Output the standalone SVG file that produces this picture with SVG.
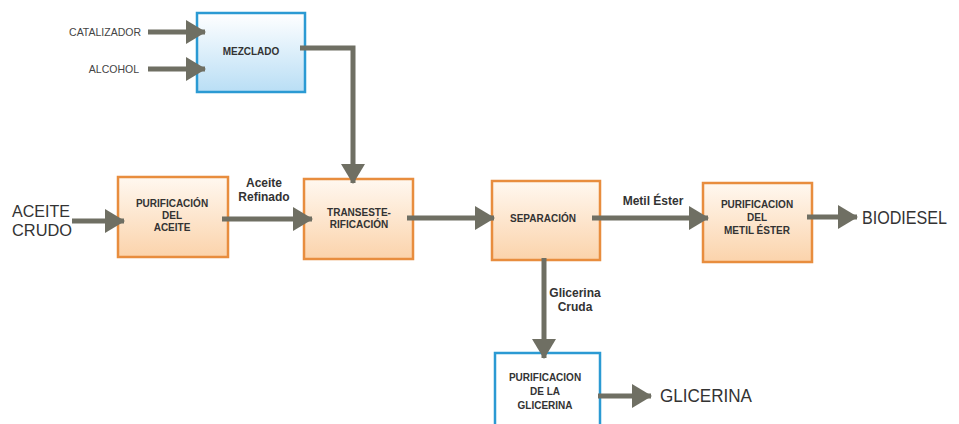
<svg xmlns="http://www.w3.org/2000/svg" width="959" height="424" viewBox="0 0 959 424">
<defs>
<linearGradient id="gBlue" x1="0" y1="0" x2="0" y2="1"><stop offset="0" stop-color="#ffffff"/><stop offset="1" stop-color="#b9def5"/></linearGradient>
<linearGradient id="gOrange" x1="0" y1="0" x2="0" y2="1"><stop offset="0" stop-color="#fff8f0"/><stop offset="1" stop-color="#fbd3ab"/></linearGradient>
<marker id="ah" markerUnits="userSpaceOnUse" markerWidth="22" markerHeight="24" refX="19" refY="12" orient="auto" viewBox="0 0 22 24"><path d="M0,0 L20,12 L0,24 Z" fill="#6f6f63"/></marker>
</defs>
<style>
.blue{fill:url(#gBlue);stroke:#2b9ad3;stroke-width:2.5}
.white{fill:#ffffff;stroke:#2b9ad3;stroke-width:2.5}
.orange{fill:url(#gOrange);stroke:#e88d3e;stroke-width:2.5}
.lbl{font-family:"Liberation Sans",Arial,sans-serif;font-weight:bold;font-size:10px;fill:#333;text-anchor:middle}
.edge{font-family:"Liberation Sans",Arial,sans-serif;font-weight:bold;font-size:12px;fill:#333;text-anchor:middle}
.small{font-family:"Liberation Sans",Arial,sans-serif;font-size:10.5px;fill:#444;text-anchor:end}
.big{font-family:"Liberation Sans",Arial,sans-serif;font-size:18px;fill:#333}
.c{fill:none;stroke:#6f6f63;stroke-width:5;marker-end:url(#ah)}
</style>
<rect width="959" height="424" fill="#ffffff"/>
<text class="small" x="141" y="36">CATALIZADOR</text>
<text class="small" x="139" y="73">ALCOHOL</text>
<text class="big" x="12" y="217" style="font-size:17px" textLength="58" lengthAdjust="spacingAndGlyphs">ACEITE</text>
<text class="big" x="12" y="236" style="font-size:17px" textLength="60" lengthAdjust="spacingAndGlyphs">CRUDO</text>
<text class="big" x="862" y="224" textLength="85" lengthAdjust="spacingAndGlyphs">BIODIESEL</text>
<text class="big" x="660" y="402" textLength="92" lengthAdjust="spacingAndGlyphs">GLICERINA</text>
<g id="mezclado"><rect class="blue" x="197" y="13" width="108" height="79"/><text class="lbl" x="251" y="55">MEZCLADO</text></g>
<g id="purif-aceite"><rect class="orange" x="118" y="177" width="110" height="80"/><text class="lbl" x="172" y="207">PURIFICACIÓN</text><text class="lbl" x="172" y="219">DEL</text><text class="lbl" x="172" y="231">ACEITE</text></g>
<g id="transest"><rect class="orange" x="304" y="179" width="109" height="80"/><text class="lbl" x="359" y="216">TRANSESTE-</text><text class="lbl" x="359" y="228">RIFICACIÓN</text></g>
<g id="separacion"><rect class="orange" x="492" y="181" width="108" height="79"/><text class="lbl" x="543" y="222">SEPARACIÓN</text></g>
<g id="purif-metil"><rect class="orange" x="703" y="183" width="109" height="79"/><text class="lbl" x="757" y="208">PURIFICACION</text><text class="lbl" x="757" y="221">DEL</text><text class="lbl" x="757" y="234">METIL ÉSTER</text></g>
<g id="purif-glicerina"><rect class="white" x="495" y="353" width="105" height="80"/><text class="lbl" x="545" y="381">PURIFICACION</text><text class="lbl" x="545" y="395">DE LA</text><text class="lbl" x="545" y="409">GLICERINA</text></g>
<g id="connectors">
<path class="c" d="M148,32 H205"/>
<path class="c" d="M148,69 H205"/>
<path class="c" d="M300,48 H353 V183"/>
<path class="c" d="M72,221 H124"/>
<path class="c" d="M222,219 H312"/>
<path class="c" d="M407,218 H494"/>
<path class="c" d="M592,218 H708"/>
<path class="c" d="M807,217 H857"/>
<path class="c" d="M544,258 V358"/>
<path class="c" d="M598,396 H651"/>
<text class="edge" x="264" y="187">Aceite</text>
<text class="edge" x="264" y="201">Refinado</text>
<text class="edge" x="653" y="205">Metil Éster</text>
<text class="edge" x="575" y="297">Glicerina</text>
<text class="edge" x="575" y="311">Cruda</text>
</g>
</svg>
